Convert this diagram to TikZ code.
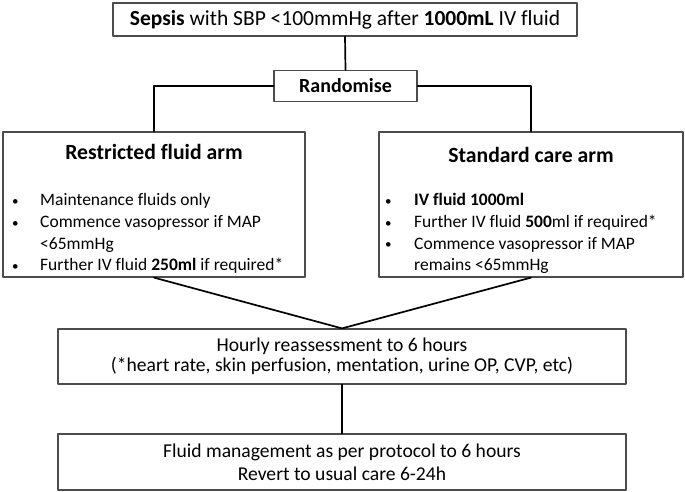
\documentclass[tikz,border=0pt]{standalone}
\usepackage{fontspec}
\setmainfont{Carlito}[Ligatures=NoCommon]
\usepackage{tikz}
\usetikzlibrary{positioning}
\tikzset{
	box/.style={draw=black!70, line width=1.2pt, inner sep=0pt, align=center},
	link/.style={draw=black, line width=1.7pt},
}
\newcommand{\titlesize}{\fontsize{21.5}{25}\selectfont}
\newcommand{\mainsize}{\fontsize{19.6}{23}\selectfont}
\newcommand{\armsize}{\fontsize{17.5}{21.7}\selectfont}
\newcommand{\headsize}{\fontsize{21.7}{26}\selectfont\bfseries}
\newcommand{\dotitem}{\raisebox{0.5pt}{\fontsize{13}{13}\selectfont\textbullet}}

\begin{document}
\begin{tikzpicture}[x=1pt,y=-1pt,line cap=round,line join=round]
	\useasboundingbox (0,0) rectangle (685,492);
	\node[box, minimum width=464, minimum height=33, font=\titlesize] (sepsis) at (345,19.5) {\textbf{Sepsis} with SBP <100mmHg after \textbf{1000mL} IV fluid};
	\node[box, minimum width=143, minimum height=31, font=\fontsize{20}{23}\selectfont\bfseries] (rand) at (345.5,86) {Randomise};
	\node[box, minimum width=302, minimum height=145] (restr) at (154,204.5) {};
	\node[box, minimum width=304, minimum height=145] (stand) at (531,204.5) {};
	\node[box, minimum width=568, minimum height=55, font=\fontsize{19.6}{20}\selectfont] (hourly) at (342,356.5) {Hourly reassessment to 6 hours\\(*heart rate, skin perfusion, mentation, urine OP, CVP, etc)};
	\node[box, minimum width=568, minimum height=56, font=\mainsize] (mgmt) at (342,462) {Fluid management as per protocol to 6 hours\\Revert to usual care 6-24h};

	\node[anchor=base, font=\headsize] (restrhead) at (154,159) {Restricted fluid arm};
	\node[anchor=base, font=\headsize] (standhead) at (531,162) {Standard care arm};
	\node[anchor=north west, inner sep=0pt, font=\armsize] (restrlist) at (12,190.5) {
		\begin{tabular}{@{}p{28pt}@{}l@{}}
			\dotitem & Maintenance fluids only\\
			\dotitem & Commence vasopressor if MAP\\
			 & <65mmHg\\
			\dotitem & Further IV fluid \textbf{250ml} if required*
		\end{tabular}};
	\node[anchor=north west, inner sep=0pt, font=\armsize] (standlist) at (385,190.5) {
		\begin{tabular}{@{}p{29pt}@{}l@{}}
			\dotitem & \textbf{IV fluid 1000ml}\\
			\dotitem & Further IV fluid \textbf{500}ml if required*\\
			\dotitem & Commence vasopressor if MAP\\
			 & remains <65mmHg
		\end{tabular}};

	\draw[link] (sepsis.south) -- (rand.north);
	\draw[link] (rand.west) -| (restr.north);
	\draw[link] (rand.east) -| (stand.north);
	\draw[link] (restr.south) -- (hourly.north);
	\draw[link] (stand.south) -- (hourly.north);
	\draw[link] (hourly.south) -- (mgmt.north);
\end{tikzpicture}
\end{document}
